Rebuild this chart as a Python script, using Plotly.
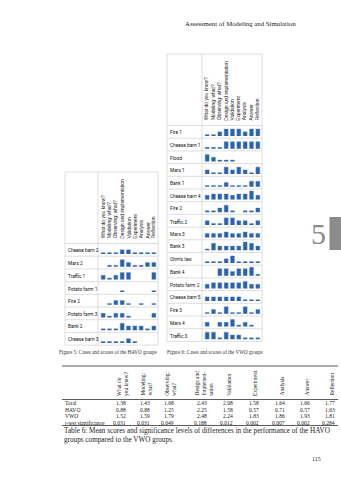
import plotly.graph_objects as go

W, H = 341, 480

# ---------------- data ----------------
criteria = ["What do you know?", "Modeling: what?", "Observing: what?",
            "Design and implementation", "Validation", "Experiment",
            "Analysis", "Answer", "Reflection"]

havo_cases = ["Cheese barn 2", "Mars 2", "Traffic 1", "Potato farm 1",
              "Fire 2", "Potato farm 3", "Bank 2", "Cheese barn 3"]
havo_scores = [
    [1, 1, 1, 2, 2, 1, 1, 1, 1],
    [None, 1, 1, 3, 2, 1, 1, 2, 2],
    [2, 1, 2, 3, 3, None, None, None, 3],
    [None, None, None, 1, None, None, None, None, 1],
    [None, 1, 2, 2, 1, None, 1, None, 1],
    [2, 1, 2, 2, 1, None, None, None, 2],
    [1, 1, 1, 3, 2, 2, 2, 1, 2],
    [1, 1, 1, 1, 2, 1, None, None, None],
]

vwo_cases = ["Fire 1", "Cheese barn 1", "Flood", "Mars 1", "Bank 1",
             "Cheese barn 4", "Fire 2", "Traffic 2", "Mars 3", "Bank 3",
             "Ohm's law", "Bank 4", "Potato farm 2", "Cheese barn 5",
             "Fire 3", "Mars 4", "Traffic 3"]
vwo_scores = [
    [1, 1, 2, 3, 3, 3, 2, 3, 3],
    [1, 1, 1, 3, 3, 3, 3, 3, 3],
    [3, 2, 1, 1, 1, None, None, None, None],
    [2, 1, 1, 3, 2, 3, 2, 1, 3],
    [1, 1, 1, 2, 1, 1, 1, 2.5, 2.5],
    [2, 2.5, 2.5, 2.5, 2, 2.5, 2.5, 3.5, 2],
    [1, 1, 2, 3, 1, None, 1, 1, 2],
    [2, 1, 1, 3, 3, 2, 2, 1, 2],
    [2, 2, 2, 2.5, 2, 2, 2.5, 2, 2],
    [1, 3, 2, 2, 2, 2, 3.5, 3, 2],
    [1, 1, 1, 2, 3, 1, 1, 1, 1],
    [None, None, 3, 3, 2, 3, 3, 3.5, 1],
    [2, 2.5, 2.5, 2.5, 2.5, 2.5, 3, 2, 2],
    [2, 2, 2, 2, 2, 2, 1, 1, 1],
    [1, 2, 1, 3, 1, 1, 3, 1, 2],
    [2, None, 2, 2, 3, 1, 2, 1, None],
    [3, 3, 1, 3, 2, 2, 1, 1, 1],
]

table_headers = ["What do<br>you know?", "Modeling:<br>what?", "Observing:<br>what?",
                 "Design and<br>Implemen-<br>tation", "Validation", "Experiment",
                 "Analysis", "Answer", "Reflection"]
table_rows = ["Total", "HAVO", "VWO", "t-test significance"]
table_values = [
    ["1.38", "1.43", "1.68", "2.43", "2.08", "1.58", "1.64", "1.66", "1.77"],
    ["0.88", "0.88", "1.25", "2.25", "1.58", "0.57", "0.71", "0.57", "1.63"],
    ["1.52", "1.59", "1.79", "2.48", "2.24", "1.83", "1.86", "1.93", "1.81"],
    ["0.031", "0.031", "0.049", "0.188", "0.012", "0.002", "0.007", "0.002", "0.284"],
]

# ---------------- helpers ----------------
def px(x):
    return x / W

def py(y):
    return 1 - y / H

BAR_COLOR = "#2b62aa"
GRID = "#d6d6d6"
SANS = "Liberation Sans, Arial, sans-serif"
LABEL_FONT = "Roboto, Liberation Sans, sans-serif"
SERIF = "Liberation Serif, Times New Roman, serif"

fig = go.Figure()
shapes = []
annotations = []
layout_axes = {}

ROW_H = 12.7
HEADER_H = 71.5

tables = [
    # (cases, scores, left, divider, right, top)
    (havo_cases, havo_scores, 65, 98, 158, 172),
    (vwo_cases, vwo_scores, 167, 202, 262, 54),
]

ax_count = 0
for ti, (cases, scores, left, div, right, top) in enumerate(tables):
    xname = "x" if ti == 0 else "x2"
    xkey = "xaxis" if ti == 0 else "xaxis2"
    hdr_bottom = top + HEADER_H
    bottom = hdr_bottom + ROW_H * len(cases)
    first_y_index = ax_count + 1

    shapes.append(dict(type="rect", xref="paper", yref="paper",
                       x0=px(left), x1=px(right), y0=py(bottom), y1=py(top),
                       line=dict(color=GRID, width=0.8)))
    shapes.append(dict(type="line", xref="paper", yref="paper",
                       x0=px(div), x1=px(div), y0=py(bottom), y1=py(top),
                       line=dict(color=GRID, width=0.8)))
    for r in range(len(cases)):
        yb = hdr_bottom + ROW_H * r
        shapes.append(dict(type="line", xref="paper", yref="paper",
                           x0=px(left), x1=px(right), y0=py(yb), y1=py(yb),
                           line=dict(color=GRID, width=0.8)))

    bar_l, bar_r = div + 2, right - 1
    step = (bar_r - bar_l) / len(criteria)

    for ci, c in enumerate(criteria):
        annotations.append(dict(
            xref="paper", yref="paper",
            x=px(bar_l + step * (ci + 0.5)), y=py(hdr_bottom - 3),
            text=c, textangle=-90, showarrow=False,
            xanchor="center", yanchor="bottom",
            font=dict(family=SANS, size=4.9, color="#1a1a1a")))

    layout_axes[xkey] = dict(domain=[px(bar_l), px(bar_r)], range=[-0.5, 8.5],
                             type="category", categoryorder="array",
                             categoryarray=criteria, visible=False,
                             anchor="y" if first_y_index == 1 else f"y{first_y_index}",
                             fixedrange=True)

    for r, (case, vals) in enumerate(zip(cases, scores)):
        ax_count += 1
        yname = "y" if ax_count == 1 else f"y{ax_count}"
        ykey = "yaxis" if ax_count == 1 else f"yaxis{ax_count}"
        row_bottom = hdr_bottom + ROW_H * (r + 1)
        base_px = row_bottom - 2.2
        top_px = base_px - 10
        layout_axes[ykey] = dict(domain=[py(base_px), py(top_px)],
                                 range=[0.5, 0.5 + 10 / 2.8],
                                 visible=False, anchor=xname, fixedrange=True)
        fig.add_trace(go.Bar(x=criteria, y=vals, xaxis=xname, yaxis=yname,
                             marker=dict(color=BAR_COLOR,
                                         line=dict(color="#5a86c4", width=0.4)),
                             showlegend=False, hoverinfo="skip"))
        annotations.append(dict(
            xref="paper", yref="paper",
            x=px(left + 1.2), y=py(row_bottom - ROW_H / 2 + 0.8),
            text=case, showarrow=False, xanchor="left", yanchor="middle",
            font=dict(family=LABEL_FONT, size=4.8, color="#111")))

# captions of the figures
annotations.append(dict(xref="paper", yref="paper", x=px(159), y=py(352),
                        text="Figure 5: Cases and scores of the HAVO groups",
                        showarrow=False, xanchor="right", yanchor="middle",
                        font=dict(family=SERIF, size=5.1, color="#333")))
annotations.append(dict(xref="paper", yref="paper", x=px(165), y=py(352),
                        text="Figure 6: Cases and scores of the VWO groups",
                        showarrow=False, xanchor="left", yanchor="middle",
                        font=dict(family=SERIF, size=5.1, color="#333")))

# running header
annotations.append(dict(xref="paper", yref="paper", x=px(240), y=py(23),
                        text="Assessment of Modeling and Simulation",
                        showarrow=False, xanchor="center", yanchor="middle",
                        font=dict(family=SERIF, size=6.8, color="#222")))

# chapter tab
shapes.append(dict(type="rect", xref="paper", yref="paper",
                   x0=px(329.5), x1=px(341), y0=py(250), y1=py(217),
                   fillcolor="#8c8c8c", line=dict(width=0)))
annotations.append(dict(xref="paper", yref="paper", x=px(318), y=py(233.5),
                        text="5", showarrow=False, xanchor="center", yanchor="middle",
                        font=dict(family=SERIF, size=30, color="#8c8c8c")))

# ---------------- table 6 ----------------
t_left, t_right = 62, 338
col_x = [124, 148, 172, 205, 231, 257, 283, 308, 333]
row_y = [403, 409.5, 416, 422.5]
rule_top, rule_hdr, rule_bot = 366, 399.5, 425.5
for yy in [rule_top, rule_hdr, rule_bot]:
    shapes.append(dict(type="line", xref="paper", yref="paper",
                       x0=px(t_left), x1=px(t_right), y0=py(yy), y1=py(yy),
                       line=dict(color="#333", width=0.8)))
for ci, hdr in enumerate(table_headers):
    annotations.append(dict(xref="paper", yref="paper",
                            x=px(col_x[ci] - 2), y=py(rule_hdr - 1.5),
                            text=hdr, textangle=-90, showarrow=False,
                            xanchor="center", yanchor="bottom", align="left",
                            font=dict(family=SERIF, size=5.4, color="#222")))
for ri, (rname, vals) in enumerate(zip(table_rows, table_values)):
    annotations.append(dict(xref="paper", yref="paper", x=px(t_left + 1), y=py(row_y[ri]),
                            text=rname, showarrow=False, xanchor="left", yanchor="middle",
                            font=dict(family=SERIF, size=5.6, color="#222")))
    for ci, v in enumerate(vals):
        annotations.append(dict(xref="paper", yref="paper", x=px(col_x[ci] + 4), y=py(row_y[ri]),
                                text=v, showarrow=False, xanchor="right", yanchor="middle",
                                font=dict(family=SERIF, size=5.6, color="#222")))

annotations.append(dict(xref="paper", yref="paper", x=px(62), y=py(431),
                        text="Table 6: Mean scores and significance levels of differences in the performance of the HAVO",
                        showarrow=False, xanchor="left", yanchor="middle",
                        font=dict(family=SERIF, size=7.2, color="#222")))
annotations.append(dict(xref="paper", yref="paper", x=px(62), y=py(440),
                        text="groups compared to the VWO groups.",
                        showarrow=False, xanchor="left", yanchor="middle",
                        font=dict(family=SERIF, size=7.2, color="#222")))

annotations.append(dict(xref="paper", yref="paper", x=px(316), y=py(459),
                        text="115", showarrow=False, xanchor="center", yanchor="middle",
                        font=dict(family=SERIF, size=6, color="#222")))

fig.update_layout(
    width=W, height=H, autosize=False,
    margin=dict(l=0, r=0, t=0, b=0, pad=0),
    paper_bgcolor="white", plot_bgcolor="rgba(0,0,0,0)",
    bargap=0.38, shapes=shapes, annotations=annotations,
    **layout_axes,
)

fig.write_html("out.html", config={"displayModeBar": False})
